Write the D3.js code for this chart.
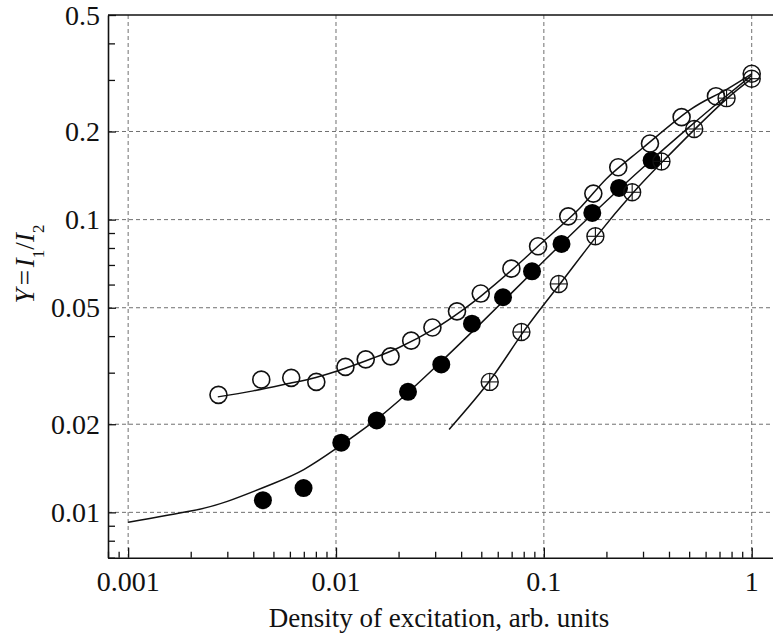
<!DOCTYPE html>
<html>
<head>
<meta charset="utf-8">
<script src="https://cdn.jsdelivr.net/npm/d3@7"></script>
<style>
  body { margin: 0; background: #fff; }
  text { font-family: "Liberation Serif", "Times New Roman", serif; fill: #111; }
</style>
</head>
<body>
<div id="chart"></div>
<script>
// ---- data ----
const xTickValues = [0.001, 0.01, 0.1, 1];
const xTickLabels = ["0.001", "0.01", "0.1", "1"];
const yTickValues = [0.01, 0.02, 0.05, 0.1, 0.2, 0.5];
const yTickLabels = ["0.01", "0.02", "0.05", "0.1", "0.2", "0.5"];

// open circles
const openX = [0.00272, 0.00437, 0.00609, 0.00804, 0.0111, 0.0139, 0.0183, 0.0230, 0.0291, 0.0382,
               0.0497, 0.0698, 0.0938, 0.131, 0.173, 0.228, 0.324, 0.460, 0.673, 1.0];
const openY = [0.0252, 0.0284, 0.0288, 0.0279, 0.0314, 0.0333, 0.0341, 0.0386, 0.0428, 0.0486,
               0.0559, 0.0680, 0.0811, 0.1026, 0.1227, 0.151, 0.182, 0.224, 0.264, 0.315];
// filled circles
const filledX = [0.00445, 0.00698, 0.0106, 0.0157, 0.0222, 0.0321, 0.0451, 0.0636, 0.0877, 0.1216, 0.171, 0.230, 0.330];
const filledY = [0.0110, 0.0121, 0.0173, 0.0206, 0.0258, 0.0320, 0.0441, 0.0543, 0.0666, 0.0826, 0.1054, 0.1283, 0.1594];
// crossed circles
const crossX = [0.0549, 0.078, 0.118, 0.177, 0.266, 0.368, 0.529, 0.757, 1.0];
const crossY = [0.0279, 0.0413, 0.0603, 0.0877, 0.124, 0.158, 0.204, 0.260, 0.303];

// fitted curves (traced)
const openFitX = [0.0027, 0.004, 0.006, 0.008, 0.011, 0.015, 0.02, 0.03, 0.04, 0.05, 0.07, 0.1, 0.15, 0.2, 0.3, 0.5, 0.7, 1.0];
const openFitY = [0.0248, 0.0260, 0.0276, 0.0289, 0.0310, 0.0336, 0.0365, 0.0425, 0.0487, 0.0549, 0.0672, 0.0845, 0.110, 0.138, 0.176, 0.236, 0.270, 0.315];
const filledFitX = [0.001, 0.002, 0.003, 0.005, 0.007, 0.01, 0.015, 0.02, 0.03, 0.05, 0.07, 0.1, 0.15, 0.2, 0.3, 0.5, 0.7, 1.0];
const filledFitY = [0.00925, 0.0101, 0.0109, 0.01255, 0.0140, 0.0165, 0.0203, 0.0240, 0.0313, 0.0444, 0.0562, 0.0722, 0.0955, 0.1158, 0.1507, 0.2069, 0.2533, 0.311];
const crossFitX = [0.035, 0.055, 0.08, 0.12, 0.18, 0.27, 0.37, 0.53, 0.76, 1.0];
const crossFitY = [0.0192, 0.0282, 0.0415, 0.0605, 0.088, 0.124, 0.157, 0.203, 0.259, 0.303];

// ---- layout ----
const width = 773, height = 635;
const margin = {top: 15, left: 108, bottom: 557.7};

const svg = d3.select("#chart").append("svg")
    .attr("width", width)
    .attr("height", height);

const x = d3.scaleLog().domain([0.0008, 1.266]).range([margin.left, width]);
const y = d3.scaleLog().domain([0.007, 0.5]).range([margin.bottom, margin.top]);

// grid
const grid = svg.append("g")
    .attr("stroke", "#707070")
    .attr("stroke-width", 1)
    .attr("stroke-dasharray", "4,3");
grid.selectAll(".gx").data(xTickValues).join("line")
    .attr("x1", d => x(d)).attr("x2", d => x(d))
    .attr("y1", margin.top).attr("y2", margin.bottom);
grid.selectAll(".gy").data(yTickValues.filter(v => v < 0.5)).join("line")
    .attr("x1", margin.left).attr("x2", width)
    .attr("y1", d => y(d)).attr("y2", d => y(d));

// axes with inward ticks
const xMinor = x.ticks().filter(v => xTickValues.indexOf(v) < 0);
const yMinor = y.ticks().filter(v => !yTickValues.some(t => Math.abs(t - v) < 1e-9));

svg.append("g")
    .attr("transform", `translate(0,${margin.bottom})`)
    .call(d3.axisTop(x).tickValues(xTickValues).tickFormat("").tickSize(10).tickSizeOuter(0));
svg.append("g")
    .attr("transform", `translate(0,${margin.bottom})`)
    .call(d3.axisTop(x).tickValues(xMinor).tickFormat("").tickSize(6).tickSizeOuter(0))
    .select(".domain").remove();

svg.append("g")
    .attr("transform", `translate(${margin.left},0)`)
    .call(d3.axisRight(y).tickValues(yTickValues).tickFormat("").tickSize(8).tickSizeOuter(0));
svg.append("g")
    .attr("transform", `translate(${margin.left},0)`)
    .call(d3.axisRight(y).tickValues(yMinor).tickFormat("").tickSize(7).tickSizeOuter(0))
    .select(".domain").remove();

svg.selectAll(".domain").attr("stroke", "#111").attr("stroke-width", 1.6);
svg.selectAll(".tick line").attr("stroke", "#111").attr("stroke-width", 1.3);

// top border
svg.append("line")
    .attr("x1", margin.left).attr("x2", width)
    .attr("y1", margin.top).attr("y2", margin.top)
    .attr("stroke", "#111").attr("stroke-width", 1.6);

// tick labels
svg.append("g").selectAll("text").data(xTickValues).join("text")
    .attr("x", d => x(d))
    .attr("y", margin.bottom + 33)
    .attr("text-anchor", "middle")
    .style("font-size", "28px")
    .text((d, i) => xTickLabels[i]);

svg.append("g").selectAll("text").data(yTickValues).join("text")
    .attr("x", margin.left - 8)
    .attr("y", d => y(d))
    .attr("dy", "0.34em")
    .attr("text-anchor", "end")
    .style("font-size", "28px")
    .text((d, i) => yTickLabels[i]);

// axis titles
svg.append("text")
    .attr("x", 439)
    .attr("y", 627)
    .attr("text-anchor", "middle")
    .style("font-size", "27px")
    .text("Density of excitation, arb. units");

const yl = svg.append("text")
    .attr("transform", "translate(34,264) rotate(-90)")
    .attr("text-anchor", "middle")
    .style("font-size", "27px");
yl.append("tspan").style("font-style", "italic").text("Y");
yl.append("tspan").attr("dx", 3).text("=");
yl.append("tspan").attr("dx", 3).style("font-style", "italic").text("I");
yl.append("tspan").attr("baseline-shift", "sub").style("font-size", "17px").text("1");
yl.append("tspan").text("/");
yl.append("tspan").style("font-style", "italic").text("I");
yl.append("tspan").attr("baseline-shift", "sub").style("font-size", "17px").text("2");

// fitted curves
const line = d3.line()
    .x(d => x(d[0]))
    .y(d => y(d[1]))
    .curve(d3.curveNatural);

[[openFitX, openFitY], [filledFitX, filledFitY], [crossFitX, crossFitY]].forEach(([xs, ys]) => {
    svg.append("path")
        .datum(xs.map((v, i) => [v, ys[i]]))
        .attr("d", line)
        .attr("fill", "none")
        .attr("stroke", "#111")
        .attr("stroke-width", 1.5);
});

// markers
const r = 8.5;
svg.append("g").selectAll("circle").data(filledX).join("circle")
    .attr("cx", d => x(d))
    .attr("cy", (d, i) => y(filledY[i]))
    .attr("r", r + 0.5)
    .attr("fill", "#000");

const crossG = svg.append("g").selectAll("g").data(crossX).join("g")
    .attr("transform", (d, i) => `translate(${x(d)},${y(crossY[i])})`);
crossG.append("circle").attr("r", r).attr("fill", "none").attr("stroke", "#111").attr("stroke-width", 1.4);
crossG.append("line").attr("x1", -r).attr("x2", r).attr("stroke", "#111").attr("stroke-width", 1.1);
crossG.append("line").attr("y1", -r).attr("y2", r).attr("stroke", "#111").attr("stroke-width", 1.1);

svg.append("g").selectAll("circle").data(openX).join("circle")
    .attr("cx", d => x(d))
    .attr("cy", (d, i) => y(openY[i]))
    .attr("r", r)
    .attr("fill", "none")
    .attr("stroke", "#111")
    .attr("stroke-width", 1.6);
</script>
</body>
</html>
